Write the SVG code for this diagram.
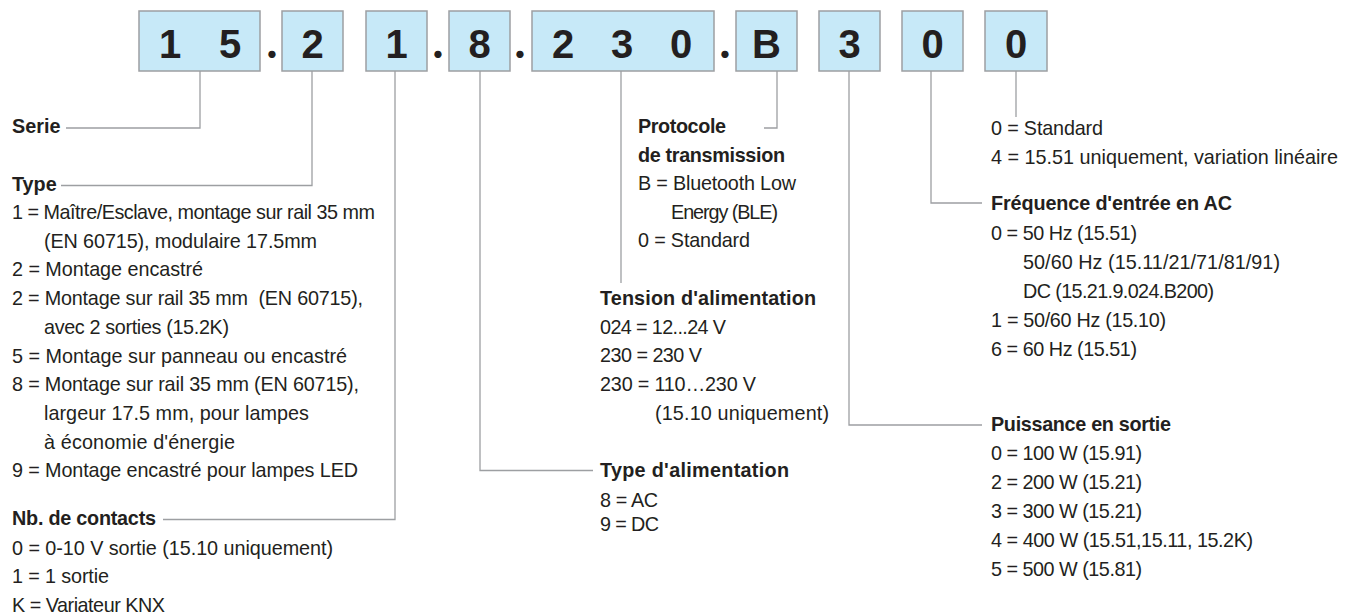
<svg xmlns="http://www.w3.org/2000/svg" width="1347" height="614" viewBox="0 0 1347 614">
<style>
.bg{fill:#ffffff}
.box{fill:#c7e9f8;stroke:#9d9fa2;stroke-width:1.5}
.d{font-family:"Liberation Sans",Arial,sans-serif;font-weight:bold;font-size:40px;fill:#231f20;text-anchor:middle}
.dot{font-family:Lato,"Liberation Sans",sans-serif;font-weight:bold;font-size:48px;fill:#231f20;text-anchor:middle}
.t{font-family:"Liberation Sans",Arial,sans-serif;font-size:19.8px;fill:#231f20}
.h{font-weight:bold}
.c{fill:none;stroke:#9d9fa2;stroke-width:1.3}
</style>
<rect class="bg" x="0" y="0" width="1347" height="614"/>

<g id="connectors">
<path class="c" d="M200,71 V128 H66"/>
<path class="c" d="M312,71 V185.5 H61"/>
<path class="c" d="M395,71 V519.5 H163"/>
<path class="c" d="M480,71 V470.5 H593"/>
<path class="c" d="M621,71 V283"/>
<path class="c" d="M777,71 V128 H764"/>
<path class="c" d="M849,71 V425 H982"/>
<path class="c" d="M931,71 V203 H982"/>
<path class="c" d="M1016,71 V117"/>
</g>

<g id="code">
<g id="box-15"><rect class="box" x="139" y="11" width="121" height="60"/><text class="d" x="170" y="58">1</text><text class="d" x="230" y="58">5</text></g>
<text class="dot" x="272" y="57.5">.</text>
<g id="box-2"><rect class="box" x="282" y="11" width="61" height="60"/><text class="d" x="312.5" y="58">2</text></g>
<g id="box-1"><rect class="box" x="366" y="11" width="61" height="60"/><text class="d" x="396.5" y="58">1</text></g>
<text class="dot" x="438" y="57.5">.</text>
<g id="box-8"><rect class="box" x="449" y="11" width="61" height="60"/><text class="d" x="479.5" y="58">8</text></g>
<text class="dot" x="520" y="57.5">.</text>
<g id="box-230"><rect class="box" x="532" y="11" width="182" height="60"/><text class="d" x="563" y="58">2</text><text class="d" x="622" y="58">3</text><text class="d" x="681" y="58">0</text></g>
<text class="dot" x="725" y="57.5">.</text>
<g id="box-B"><rect class="box" x="736" y="11" width="61" height="60"/><text class="d" x="766.5" y="58">B</text></g>
<g id="box-3"><rect class="box" x="819" y="11" width="61" height="60"/><text class="d" x="849.5" y="58">3</text></g>
<g id="box-0a"><rect class="box" x="902" y="11" width="61" height="60"/><text class="d" x="932.5" y="58">0</text></g>
<g id="box-0b"><rect class="box" x="985" y="11" width="62" height="60"/><text class="d" x="1016" y="58">0</text></g>
</g>

<g id="serie"><text class="t h" x="12" y="133">Serie</text></g>

<g id="type">
<text class="t h" x="12" y="191">Type</text>
<text class="t" x="12" y="219" textLength="363">1 = Maître/Esclave, montage sur rail 35 mm</text>
<text class="t" x="44" y="247.7" textLength="273">(EN 60715), modulaire 17.5mm</text>
<text class="t" x="12" y="276.4" textLength="191">2 = Montage encastré</text>
<text class="t" x="12" y="305.1" textLength="351" xml:space="preserve">2 = Montage sur rail 35 mm  (EN 60715),</text>
<text class="t" x="44" y="333.8" textLength="185">avec 2 sorties (15.2K)</text>
<text class="t" x="12" y="362.5" textLength="335">5 = Montage sur panneau ou encastré</text>
<text class="t" x="12" y="391.2" textLength="347">8 = Montage sur rail 35 mm (EN 60715),</text>
<text class="t" x="44" y="419.9" textLength="265">largeur 17.5 mm, pour lampes</text>
<text class="t" x="44" y="448.6" textLength="191">à économie d'énergie</text>
<text class="t" x="12" y="477.3" textLength="346">9 = Montage encastré pour lampes LED</text>
</g>

<g id="contacts">
<text class="t h" x="12" y="525" textLength="144">Nb. de contacts</text>
<text class="t" x="12" y="554.5" textLength="321">0 = 0-10 V sortie (15.10 uniquement)</text>
<text class="t" x="12" y="583.2" textLength="97">1 = 1 sortie</text>
<text class="t" x="12" y="611.9" textLength="153">K = Variateur KNX</text>
</g>

<g id="alimentation">
<text class="t h" x="600" y="476.7" textLength="189">Type d'alimentation</text>
<text class="t" x="600" y="506.7" textLength="58">8 = AC</text>
<text class="t" x="600" y="530.7" textLength="59">9 = DC</text>
</g>

<g id="tension">
<text class="t h" x="600" y="305" textLength="216">Tension d'alimentation</text>
<text class="t" x="600" y="333.7" textLength="126">024 = 12...24 V</text>
<text class="t" x="600" y="362.4" textLength="102">230 = 230 V</text>
<text class="t" x="600" y="391.1" textLength="156">230 = 110…230 V</text>
<text class="t" x="655" y="419.8" textLength="174">(15.10 uniquement)</text>
</g>

<g id="protocole">
<text class="t h" x="638" y="133.3" textLength="88">Protocole</text>
<text class="t h" x="638" y="161.8" textLength="147">de transmission</text>
<text class="t" x="638" y="190.3" textLength="158">B = Bluetooth Low</text>
<text class="t" x="671" y="218.8" textLength="107">Energy (BLE)</text>
<text class="t" x="638" y="247.3" textLength="112">0 = Standard</text>
</g>

<g id="variation">
<text class="t" x="991" y="135" textLength="112">0 = Standard</text>
<text class="t" x="991" y="164">4 = 15.51 uniquement, variation linéaire</text>
</g>

<g id="frequence">
<text class="t h" x="991" y="210" textLength="241">Fréquence d'entrée en AC</text>
<text class="t" x="991" y="240" textLength="146">0 = 50 Hz (15.51)</text>
<text class="t" x="1023" y="269" textLength="257">50/60 Hz (15.11/21/71/81/91)</text>
<text class="t" x="1023" y="298" textLength="191">DC (15.21.9.024.B200)</text>
<text class="t" x="991" y="327" textLength="175">1 = 50/60 Hz (15.10)</text>
<text class="t" x="991" y="356" textLength="146">6 = 60 Hz (15.51)</text>
</g>

<g id="puissance">
<text class="t h" x="991" y="430.5" textLength="180">Puissance en sortie</text>
<text class="t" x="991" y="460" textLength="151">0 = 100 W (15.91)</text>
<text class="t" x="991" y="489" textLength="151">2 = 200 W (15.21)</text>
<text class="t" x="991" y="518" textLength="151">3 = 300 W (15.21)</text>
<text class="t" x="991" y="547" textLength="262">4 = 400 W (15.51,15.11, 15.2K)</text>
<text class="t" x="991" y="576" textLength="151">5 = 500 W (15.81)</text>
</g>
</svg>
